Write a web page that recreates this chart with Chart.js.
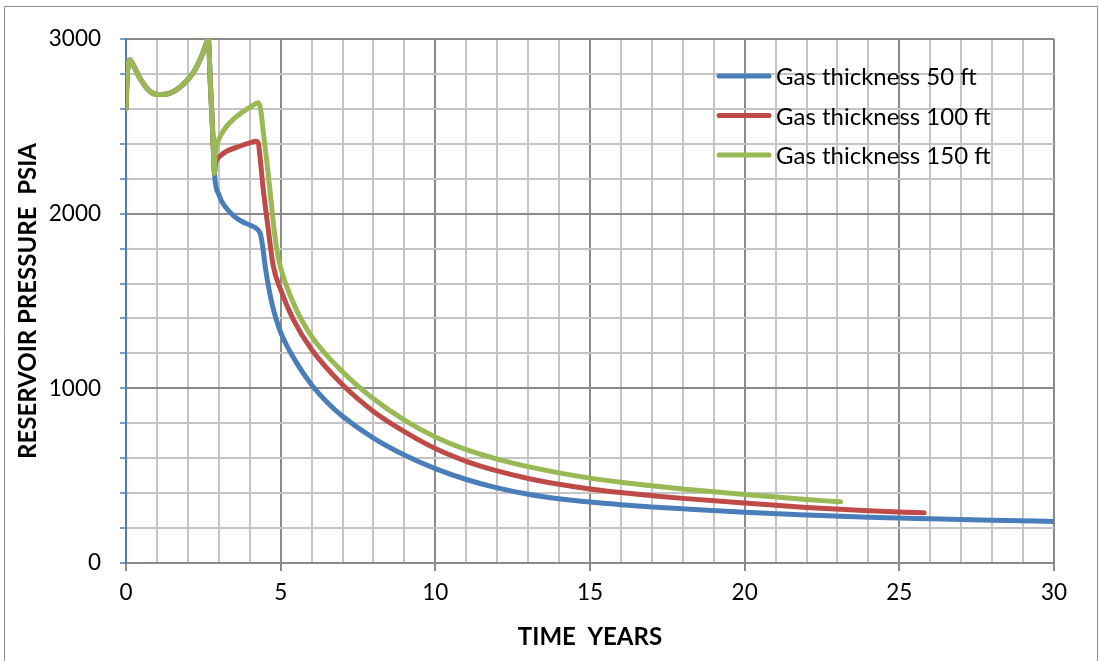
<!DOCTYPE html>
<html>
<head>
<meta charset="utf-8">
<script src="https://cdn.jsdelivr.net/npm/chart.js@4"></script>
<style>
  html, body { margin: 0; padding: 0; background: #ffffff; }
  #wrap { width: 1099px; height: 661px; position: relative; }
  canvas { display: block; }
</style>
</head>
<body>
<div id="wrap"><canvas id="chart" width="1099" height="661"></canvas></div>
<script>
// Reservoir pressure history for three gas-cap thicknesses.
const seriesLabels = ['Gas thickness 50 ft', 'Gas thickness 100 ft', 'Gas thickness 150 ft'];
const seriesColors = ['#4A7EBB', '#BE4B48', '#98B954'];

// Common early history (identical for every case)
const sharedYears = [0, 0.04, 0.13, 0.25, 0.45, 0.77, 1.04, 1.42, 1.85, 2.17, 2.44, 2.6, 2.66, 2.73, 2.8, 2.86];
const sharedPsia  = [2600, 2790, 2880, 2845, 2775, 2700, 2682, 2690, 2740, 2806, 2900, 2975, 3000, 2730, 2480, 2230];

// 50 ft gas cap
const years50 = [3.0, 3.25, 3.5, 3.75, 4.0, 4.25, 4.35, 4.42, 4.5, 4.6, 4.7, 4.8, 5.0, 5.5, 6, 6.5, 7, 8, 9, 10, 11, 12, 13, 14, 15, 16, 17, 18, 20, 22, 24, 26, 28, 30];
const psia50  = [2110, 2030, 1985, 1955, 1935, 1910, 1880, 1810, 1700, 1590, 1500, 1430, 1320, 1150, 1020, 920, 840, 715, 618, 540, 478, 430, 394, 368, 349, 334, 321, 310, 290, 275, 262, 253, 245, 238];

// 100 ft gas cap
const years100 = [2.9, 2.96, 3.04, 3.25, 3.68, 4.0, 4.2, 4.27, 4.33, 4.43, 4.6, 4.76, 5.0, 5.41, 6, 7, 8, 9, 10, 11, 12, 13, 14, 15, 16, 17, 18, 20, 22, 24, 25.8];
const psia100  = [2290, 2315, 2330, 2357, 2386, 2405, 2414, 2408, 2330, 2150, 1909, 1700, 1565, 1393, 1222, 1020, 868, 752, 655, 582, 527, 484, 451, 424, 403, 386, 370, 343, 318, 299, 287];

// 150 ft gas cap
const years150 = [2.88, 2.95, 3.1, 3.25, 3.5, 3.75, 4.0, 4.2, 4.27, 4.35, 4.45, 4.55, 4.65, 4.8, 4.9, 5.0, 5.41, 6, 7, 8, 9, 10, 11, 12, 13, 14, 15, 16, 17, 18, 20, 22, 23.1];
const psia150  = [2330, 2400, 2460, 2500, 2545, 2580, 2608, 2630, 2635, 2600, 2450, 2300, 2140, 1890, 1770, 1690, 1489, 1298, 1095, 940, 818, 722, 649, 595, 552, 516, 486, 462, 442, 424, 392, 363, 350];

const xTickStep = 1, xLabelEvery = 5;
const yTickStep = 200, yLabelEvery = 1000;

function toPoints(xs, ys) {
  const pts = sharedYears.map((x, i) => ({ x: x, y: sharedPsia[i] }));
  xs.forEach((x, i) => pts.push({ x: x, y: ys[i] }));
  return pts;
}

const caseYears = [years50, years100, years150];
const casePsia = [psia50, psia100, psia150];

const datasets = seriesLabels.map((label, i) => ({
  label: label,
  data: toPoints(caseYears[i], casePsia[i]),
  borderColor: seriesColors[i],
  backgroundColor: seriesColors[i],
  borderWidth: 5,
  pointRadius: 0,
  fill: false,
  cubicInterpolationMode: 'monotone',
  borderCapStyle: 'round',
  borderJoinStyle: 'round',
  clip: 0,
  order: seriesLabels.length - i
}));

const MAJOR = '#8a8a8a', MINOR = '#c4c4c4', AXIS_BLUE = '#4A7EBB';

// Outer frame of the chart object
const framePlugin = {
  id: 'frame',
  beforeDraw(chart) {
    const ctx = chart.ctx;
    ctx.save();
    ctx.fillStyle = '#ffffff';
    ctx.fillRect(0, 0, chart.width, chart.height);
    ctx.strokeStyle = '#8c8c8c';
    ctx.lineWidth = 1;
    ctx.beginPath();
    ctx.moveTo(4.5, chart.height);
    ctx.lineTo(4.5, 6.5);
    ctx.lineTo(chart.width - 1.5, 6.5);
    ctx.lineTo(chart.width - 1.5, chart.height);
    ctx.stroke();
    ctx.restore();
  }
};

// Legend drawn inside the plot, top right
const insideLegend = {
  id: 'insideLegend',
  afterDatasetsDraw(chart) {
    const ctx = chart.ctx;
    ctx.save();
    chart.data.datasets.forEach((ds, i) => {
      const y = 76 + i * 39.5;
      ctx.strokeStyle = ds.borderColor;
      ctx.lineWidth = 5;
      ctx.lineCap = 'round';
      ctx.beginPath();
      ctx.moveTo(719, y);
      ctx.lineTo(769, y);
      ctx.stroke();
      ctx.fillStyle = '#000000';
      ctx.font = '24px Lato';
      ctx.textBaseline = 'alphabetic';
      ctx.textAlign = 'left';
      ctx.fillText(ds.label, 776, y + 9);
    });
    ctx.restore();
  }
};

new Chart(document.getElementById('chart'), {
  type: 'line',
  data: { datasets: datasets },
  plugins: [framePlugin, insideLegend],
  options: {
    responsive: false,
    animation: false,
    devicePixelRatio: 1,
    layout: { padding: { top: 39, right: 45, bottom: 0, left: 0 } },
    plugins: {
      legend: { display: false },
      tooltip: { enabled: false },
      title: { display: false }
    },
    scales: {
      x: {
        type: 'linear',
        min: 0,
        max: 30,
        afterFit: (s) => { s.height = 98; },
        ticks: {
          stepSize: xTickStep,
          autoSkip: false,
          maxRotation: 0,
          padding: 8,
          color: '#000000',
          font: { family: 'Lato', size: 22.5 },
          callback: (v) => (v % xLabelEvery === 0 ? String(v) : '')
        },
        grid: {
          lineWidth: 2,
          color: (c) => (c.tick && c.tick.value === 0 ? 'rgba(0,0,0,0)' : (c.tick && c.tick.value % xLabelEvery === 0 ? MAJOR : MINOR)),
          tickLength: 8,
          tickColor: (c) => (c.tick && c.tick.value % xLabelEvery === 0 ? MAJOR : 'rgba(0,0,0,0)'),
          tickWidth: 2
        },
        border: { color: MAJOR, width: 2 },
        title: {
          display: true,
          text: 'TIME  YEARS',
          color: '#000000',
          font: { family: 'Lato', size: 24, weight: 'bold' },
          padding: { top: 0, bottom: 9 }
        }
      },
      y: {
        type: 'linear',
        min: 0,
        max: 3000,
        afterFit: (s) => { s.width = 126; },
        ticks: {
          stepSize: yTickStep,
          autoSkip: false,
          padding: 19,
          color: '#000000',
          font: { family: 'Lato', size: 22.5 },
          callback: (v) => (v % yLabelEvery === 0 ? String(v) : '')
        },
        grid: {
          lineWidth: 2,
          color: (c) => (c.tick && c.tick.value % yLabelEvery === 0 ? MAJOR : MINOR),
          tickLength: 6,
          tickColor: AXIS_BLUE,
          tickWidth: 1.5
        },
        border: { color: AXIS_BLUE, width: 2 },
        title: {
          display: true,
          text: 'RESERVOIR PRESSURE  PSIA',
          color: '#000000',
          font: { family: 'Lato', size: 24, weight: 'bold' },
          padding: { top: 14, bottom: 0 }
        }
      }
    }
  }
});
</script>
</body>
</html>
